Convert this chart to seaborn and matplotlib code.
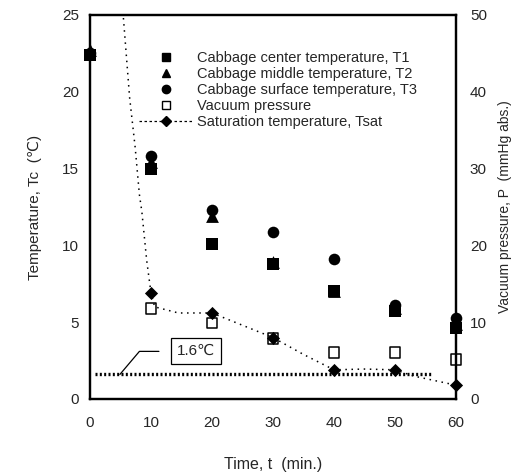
import numpy as np
import pandas as pd
import seaborn as sns
import matplotlib.pyplot as plt
from matplotlib.lines import Line2D

# values
time_min = [0, 10, 20, 30, 40, 50, 60]
t1_center = [22.4, 15.0, 10.1, 8.8, 7.0, 5.7, 4.6]
t2_middle = [22.7, 15.4, 11.9, 8.9, 7.0, 5.9, 4.9]
t3_surface = [22.5, 15.8, 12.3, 10.9, 9.1, 6.1, 5.3]
vac_time = [10, 20, 30, 40, 50, 60]
vac_pressure = [11.8, 9.9, 7.9, 6.1, 6.1, 5.1]
tsat_time = [10, 20, 30, 40, 50, 60]
tsat_temp = [6.9, 5.6, 4.0, 1.9, 1.9, 0.9]

# saturation temperature curve as drawn (dotted)
curve_time = [5.4, 6.5, 7.4, 8.1, 8.5, 9.3, 10.0, 10.6, 14.5, 20.0, 25.0, 30.0, 35.0, 40.0, 45.0, 50.0, 53.0, 60.0]
curve_temp = [25.2, 19.6, 16.4, 13.3, 12.2, 9.0, 6.9, 6.0, 5.6, 5.6, 4.8, 4.0, 2.9, 1.9, 1.95, 1.9, 1.5, 0.9]

limit_temp = 1.6
limit_span = [0.8, 56.2]
legend_labels = ['Cabbage center temperature, T1',
                 'Cabbage middle temperature, T2',
                 'Cabbage surface temperature, T3',
                 'Vacuum pressure',
                 'Saturation temperature, Tsat']

sns.set_style('white')
plt.rcParams['font.family'] = ['Liberation Sans', 'DejaVu Sans']

fig = plt.figure(figsize=(5.15, 4.75), dpi=100)
ax = fig.add_axes([90 / 515, 1 - 399 / 475, 366 / 515, 384 / 475])
ax2 = ax.twinx()

df = pd.DataFrame({'t': time_min, 'T1': t1_center, 'T2': t2_middle, 'T3': t3_surface})

# saturation curve and 1.6 C line
sns.lineplot(x=curve_time, y=curve_temp, ax=ax, color='black', lw=1.1,
             linestyle=(0, (1, 3)), sort=False, legend=False)
sns.lineplot(x=limit_span, y=[limit_temp, limit_temp], ax=ax, color='black',
             lw=2.4, linestyle=(0, (0.6, 0.7)), legend=False)

pts = dict(color='black', linewidth=0, legend=False, clip_on=False, zorder=5)
sns.scatterplot(data=df, x='t', y='T2', ax=ax, marker='^', s=85, **pts)
sns.scatterplot(data=df, x='t', y='T1', ax=ax, marker='s', s=75, **pts)
sns.scatterplot(data=df, x='t', y='T3', ax=ax, marker='o', s=70, **pts)
sns.scatterplot(x=tsat_time, y=tsat_temp, ax=ax, marker='D', s=45, **pts)

sns.scatterplot(x=vac_time, y=vac_pressure, ax=ax2, marker='s', s=60, facecolor='none',
                edgecolor='black', linewidth=1.1, legend=False, clip_on=False, zorder=5)

# annotation for the 1.6 C line
ax.plot([4.9, 8.1, 11.3], [limit_temp, 3.1, 3.1], color='black', lw=0.9)
ax.text(17.4, 3.15, '1.6\u2103', ha='center', va='center', fontsize=11,
        bbox=dict(boxstyle='square,pad=0.4', fc='white', ec='black', lw=0.9))

ax.set_xlim(0, 60)
ax.set_ylim(0, 25)
ax2.set_ylim(0, 50)
ax.set_xticks(time_min)
ax.set_yticks([0, 5, 10, 15, 20, 25])
ax2.set_yticks([0, 10, 20, 30, 40, 50])

ax.tick_params(axis='x', length=0, pad=12, labelsize=11)
ax.tick_params(axis='y', length=0, pad=8, labelsize=11)
ax2.tick_params(axis='y', length=0, pad=10, labelsize=11)

ax.set_xlabel('Time, t  (min.)', fontsize=11.5, labelpad=20)
ax.set_ylabel('Temperature, Tc  (\u2103)', fontsize=11, labelpad=14)
ax2.set_ylabel('Vacuum pressure, P  (mmHg abs.)', fontsize=10, labelpad=8)

for a in (ax, ax2):
    for sp in a.spines.values():
        sp.set_linewidth(1.6)
        sp.set_color('black')

handles = [
    Line2D([], [], marker='s', color='black', ls='none', ms=6),
    Line2D([], [], marker='^', color='black', ls='none', ms=6),
    Line2D([], [], marker='o', color='black', ls='none', ms=6),
    Line2D([], [], marker='s', mfc='none', mec='black', color='black', ls='none', ms=6, mew=1),
    Line2D([], [], marker='D', color='black', ls=(0, (2, 2)), lw=0.9, ms=5),
]
ax2.legend(handles, legend_labels, loc='upper left', bbox_to_anchor=(0.135, 0.905),
           frameon=False, fontsize=10.5, handlelength=3.7, handletextpad=0.25,
           labelspacing=0.13, borderpad=0, borderaxespad=0)

fig.savefig('out.png', dpi=100)
